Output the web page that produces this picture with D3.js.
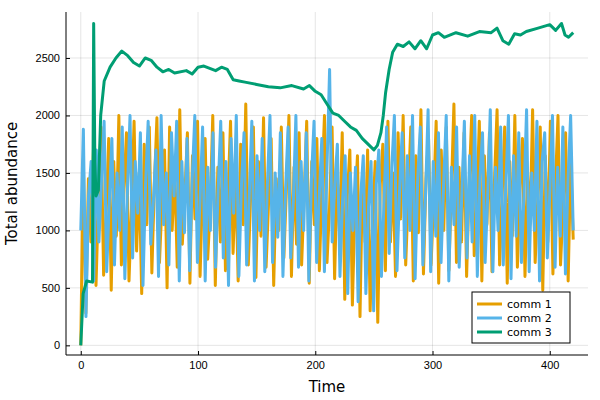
<!DOCTYPE html><html><head><meta charset="utf-8"><script src="https://cdn.jsdelivr.net/npm/d3@7"></script>
<style>body{margin:0;background:#fff}svg{font-family:"DejaVu Sans",sans-serif}</style></head><body><svg id="c" width="600" height="400"></svg>
<script>
const tMax = 420;
const xTicks = [0,100,200,300,400];
const yTicks = [0,500,1000,1500,2000,2500];
const seriesNames = ["comm 1","comm 2","comm 3"];
const colors = ["#e69f00","#56b4e9","#009e73"];
const comm1 = [0,1620,280,1450,900,1700,520,1300,1900,610,1150,1800,480,1600,950,2000,700,1350,1850,560,1200,1950,820,1500,450,1750,1050,1900,630,1400,1980,720,1250,1700,500,1900,1000,1550,680,2050,
880,1300,1850,540,1650,1100,1950,600,1400,1800,750,1200,2000,520,1550,900,1850,650,1300,1950,800,1500,560,1750,1050,2100,700,1350,1900,590,1600,950,1980,680,1250,1800,520,1450,1000,1900,
760,1350,2000,600,1550,880,1850,700,1300,1950,540,1600,1050,1800,650,1400,2000,720,1200,1900,580,1500,950,1850,400,1300,1700,350,1200,1650,250,1500,900,1700,300,1100,1600,200,1400,1750,
650,1950,900,1500,600,1850,1100,2000,700,1300,1900,560,1650,980,2050,620,1450,1800,700,1250,1950,540,1700,1000,1900,650,1350,2100,720,1550,900,1850,600,1400,2000,780,1200,1950,560,1650,
1050,1850,640,1450,2050,700,1300,1900,540,1600,950,2000,680,1350,1800,600,1500,1050,2050,720,1250,1900,480,1650,900,1950,620,1400,2000,700,1200,1850,560,1600,920];
const comm2 = [1000,1880,250,1300,1600,560,1700,900,1450,1950,640,1250,1800,700,1500,1000,1900,580,1350,2000,760,1600,1150,1850,520,1400,1950,880,1250,1700,600,2000,1050,1500,700,1850,1300,1950,560,1600,
980,1800,650,1450,2000,720,1250,1900,560,1550,1000,1850,680,1350,1950,760,1600,520,1800,1150,2000,600,1400,1850,700,1300,1950,560,1650,1000,1800,640,1400,2000,720,1500,940,1850,600,1350,
1900,760,1250,2000,680,1600,1000,1850,560,1450,1950,720,1300,1800,640,1550,2400,900,1400,1750,600,1250,1650,450,1500,1000,1550,380,1300,1650,450,1200,1600,300,1400,1700,600,1250,1900,800,
1550,2000,650,1350,1850,760,1650,1000,2000,580,1450,1900,700,1300,2050,640,1600,950,1850,720,1400,2000,560,1550,1050,1900,680,1300,1950,760,1650,900,2000,600,1450,1850,720,1300,2050,640,
1550,1000,1900,700,1400,2000,580,1650,950,1850,720,1300,2050,640,1500,1000,1950,560,1600,1850,760,1350,2000,680,1550,950,1900,620,1450,2000,1000];
const comm3T = [0,2,5,10,11,12,13,15,17,20,25,30,35,40,45,50,55,60,65,70,75,80,90,95,100,105,110,115,120,125,130,135,140,150,160,170,180,190,195,200,205,210,215,220,225,230,235,240,245,250,253,256,258,260,263,266,270,275,280,285,290,295,300,305,310,320,330,340,350,355,360,365,370,375,380,390,400,405,410,413,416,420];
const comm3V = [0,450,560,550,2800,1600,1300,1350,2000,2300,2420,2500,2560,2520,2460,2430,2500,2480,2420,2380,2400,2370,2390,2360,2420,2430,2410,2390,2420,2400,2310,2300,2290,2270,2250,2240,2260,2230,2260,2210,2180,2100,2020,2000,1950,1900,1870,1800,1750,1700,1740,1850,2000,2200,2400,2550,2620,2600,2640,2580,2650,2580,2700,2720,2680,2720,2690,2730,2720,2760,2650,2620,2710,2700,2730,2760,2790,2740,2800,2700,2680,2720];
const W=600,H=400,m={l:66,r:12,t:12,b:45};
const svg=d3.select("#c");
const x=d3.scaleLinear().domain([-12.6,432.6]).range([m.l,W-m.r]);
const y=d3.scaleLinear().domain([-84,2900]).range([H-m.b,m.t]);
const g=svg.append("g");
g.selectAll(".gx").data(xTicks).join("line").attr("x1",d=>x(d)).attr("x2",d=>x(d)).attr("y1",m.t).attr("y2",H-m.b).attr("stroke","#000").attr("stroke-opacity",0.1);
g.selectAll(".gy").data(yTicks).join("line").attr("y1",d=>y(d)).attr("y2",d=>y(d)).attr("x1",m.l).attr("x2",W-m.r).attr("stroke","#000").attr("stroke-opacity",0.1);
const ax=svg.append("g").attr("transform",`translate(0,${H-m.b})`).call(d3.axisBottom(x).tickValues(xTicks).tickFormat(d3.format("d")).tickSize(-4).tickPadding(6));
const ay=svg.append("g").attr("transform",`translate(${m.l},0)`).call(d3.axisLeft(y).tickValues(yTicks).tickFormat(d3.format("d")).tickSize(-4).tickPadding(6));
[ax,ay].forEach(a=>{a.selectAll("text").attr("font-size",11).attr("fill","#000");a.select(".domain").remove();});
svg.append("line").attr("x1",m.l).attr("x2",W-m.r).attr("y1",H-m.b).attr("y2",H-m.b).attr("stroke","#000");
svg.append("line").attr("x1",m.l).attr("x2",m.l).attr("y1",m.t).attr("y2",H-m.b).attr("stroke","#000");
svg.append("clipPath").attr("id","cl").append("rect").attr("x",m.l).attr("y",m.t).attr("width",W-m.l-m.r).attr("height",H-m.t-m.b);
const line=d3.line().x(d=>x(d[0])).y(d=>y(d[1]));
const toPts=a=>a.map((v,i)=>[i*tMax/(a.length-1),v]);
const data=[toPts(comm1),toPts(comm2),comm3T.map((t,i)=>[t,comm3V[i]])];
data.forEach((d,i)=>svg.append("path").attr("clip-path","url(#cl)").attr("d",line(d)).attr("fill","none").attr("stroke",colors[i]).attr("stroke-width",3).attr("stroke-linejoin","round"));
svg.append("text").attr("x",(m.l+W-m.r)/2).attr("y",392).attr("text-anchor","middle").attr("font-size",15).text("Time");
svg.append("text").attr("transform",`translate(17,${(m.t+H-m.b)/2}) rotate(-90)`).attr("text-anchor","middle").attr("font-size",15).text("Total abundance");
const lg=svg.append("g").attr("transform","translate(472,292)");
lg.append("rect").attr("width",98).attr("height",51).attr("fill","#fff").attr("stroke","#000");
seriesNames.forEach((n,i)=>{lg.append("line").attr("x1",5).attr("x2",30).attr("y1",12+i*14).attr("y2",12+i*14).attr("stroke",colors[i]).attr("stroke-width",3);
lg.append("text").attr("x",35).attr("y",16+i*14).attr("font-size",11).text(n);});
</script></body></html>
